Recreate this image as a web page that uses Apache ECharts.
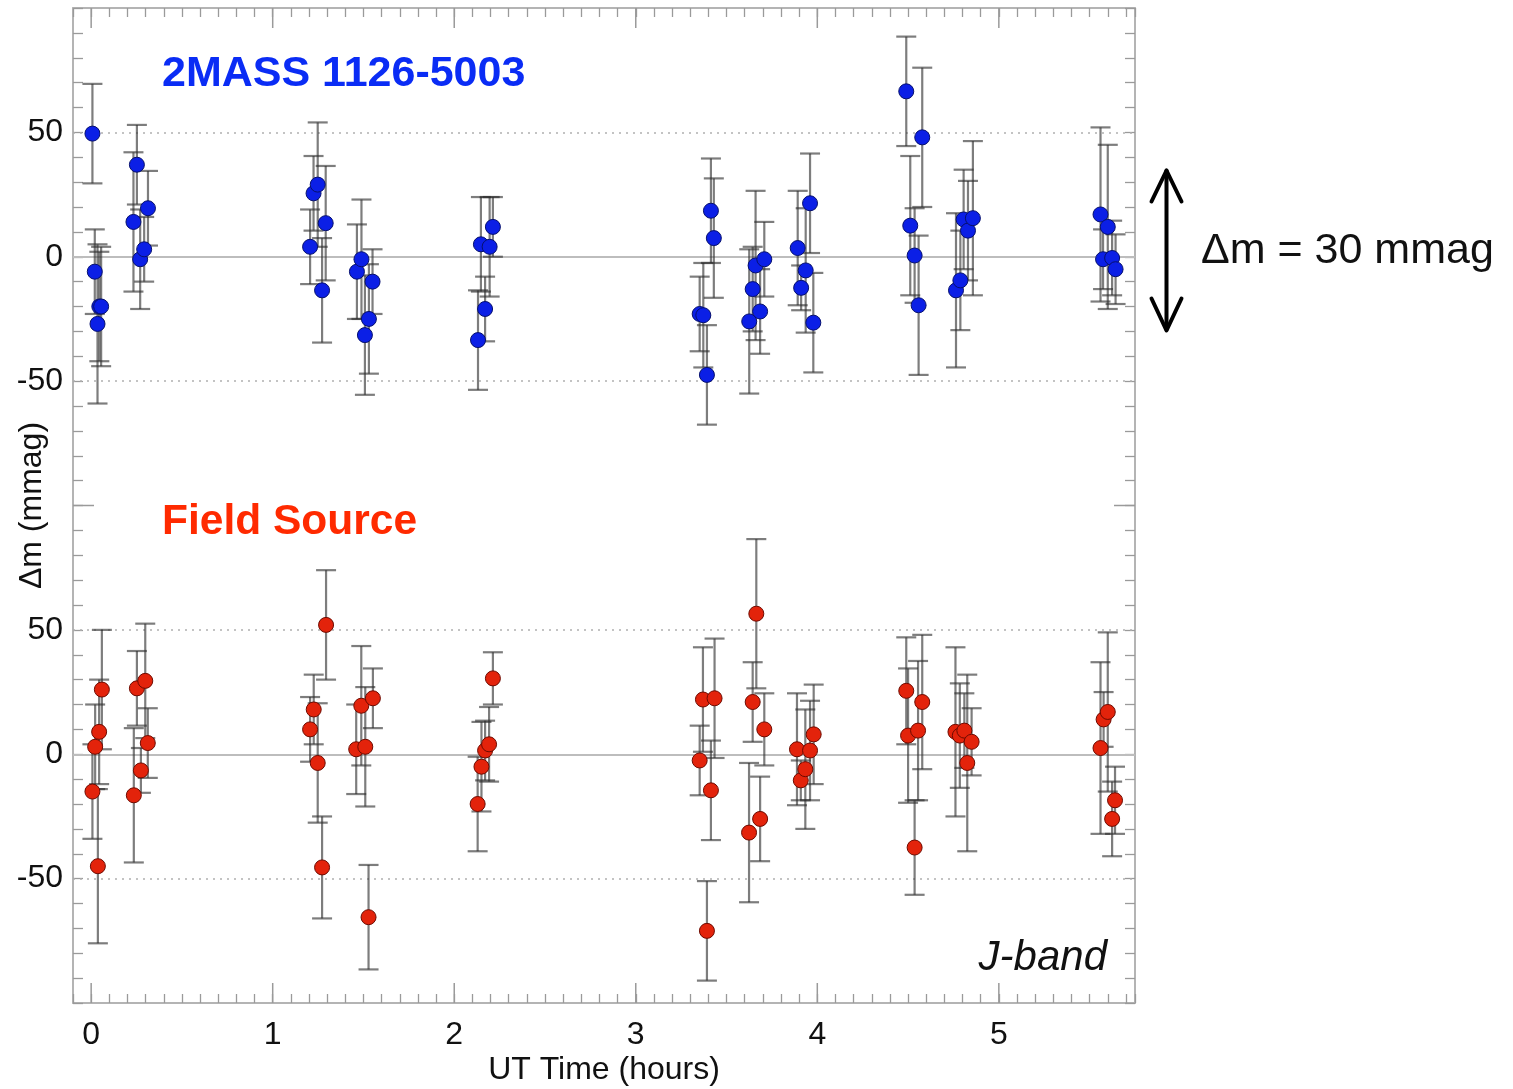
<!DOCTYPE html>
<html>
<head>
<meta charset="utf-8">
<script src="https://cdn.jsdelivr.net/npm/echarts@6/dist/echarts.min.js"></script>
<style>
html,body{margin:0;padding:0;background:#fff;}
#chart{width:1513px;height:1089px;}
</style>
</head>
<body>
<div id="chart"></div>
<script>
// ---- data (UT hours, delta-m in mmag, 1-sigma error in mmag) ----
const blueTime = [0.007,0.02,0.035,0.045,0.055, 0.233,0.252,0.27,0.292,0.313,
  1.206,1.225,1.248,1.272,1.292, 1.464,1.489,1.508,1.53,1.55,
  2.131,2.147,2.17,2.195,2.213, 3.352,3.372,3.392,3.414,3.43,
  3.625,3.644,3.66,3.685,3.708, 3.892,3.911,3.936,3.96,3.978,
  4.49,4.512,4.536,4.558,4.578, 4.764,4.788,4.806,4.83,4.857,
  5.56,5.574,5.6,5.624,5.643];
const blueDm = [49.5,-6,-27,-20,-20, 14,37,-1,3,19.5,
  4,25.5,29,-13.5,13.5, -6,-1,-31.5,-25,-10,
  -33.5,5,-21,4,12, -23,-23.5,-47.5,18.5,7.5,
  -26,-13,-3.5,-22,-1, 3.5,-12.5,-5.5,21.5,-26.5,
  66.5,12.5,0.5,-19.5,48, -13.5,-9.5,15,10.5,15.5,
  17,-1,12,-0.5,-5];
const blueErr = [20,17,32,22,24, 28,16,20,13,15,
  15,15,25,21,23, 19,24,24,22,13,
  20,19,13,20,12, 15,21,20,21,24,
  29,17,30,17,15, 23,9,25,20,20,
  22,28,19,28,28, 31,20,20,20,31,
  35,12,33,15,14];

const redTime = [0.007,0.022,0.037,0.044,0.059, 0.235,0.252,0.274,0.298,0.312,
  1.206,1.226,1.248,1.272,1.294, 1.46,1.488,1.51,1.528,1.552,
  2.129,2.15,2.17,2.192,2.213, 3.352,3.37,3.392,3.414,3.434,
  3.624,3.644,3.664,3.685,3.708, 3.888,3.909,3.934,3.96,3.98,
  4.49,4.5,4.536,4.555,4.578, 4.761,4.785,4.81,4.826,4.85,
  5.56,5.577,5.6,5.624,5.64];
const redDm = [-15,3,-45,9,26, -16.5,26.5,-6.5,29.5,4.5,
  10,18,-3.5,-45.5,52, 2,19.5,3,-65.5,22.5,
  -20,-5,1.5,4,30.5, -2.5,22,-71,-14.5,22.5,
  -31.5,21,56.5,-26,10, 2,-10.5,-6,1.5,8,
  25.5,7.5,-37.5,9.5,21, 9,7.5,9.5,-3.5,5,
  2.5,14,17,-26,-18.5];
const redErr = [19,17,31,21,24, 27,15,9,23,14,
  13,14,24,20.5,22, 18,24,24,21,12,
  19,18,12,15,10.5, 14,21,20,20,24,
  28,16,30,17,14.5, 22.5,8,24,20,20,
  21.5,27,19,28,27, 34,21,15,35.5,13.5,
  34.5,11,32,15,13.5];

const xTickLabels = [0,1,2,3,4,5];
const yTickLabels = [50,0,-50];
const PANEL_OFFSET = 200;   // lower panel drawn 200 mmag below the upper one

// ---- build ----
const bluePts = blueTime.map((t,i)=>[t, blueDm[i], blueErr[i]]);
const redPts = redTime.map((t,i)=>[t, redDm[i]-PANEL_OFFSET, redErr[i]]);

const FONT = '"Liberation Sans", Arial, Helvetica, sans-serif';
const frameColor = '#b4b4b4';
const tickColor = '#9a9a9a';

function errRender(params, api){
  const x = api.value(0), y = api.value(1), e = api.value(2);
  const top = api.coord([x, y+e]);
  const bot = api.coord([x, y-e]);
  const hw = 10;
  const st = {stroke:'rgba(45,45,45,0.62)', lineWidth:2.2};
  return {type:'group', children:[
    {type:'line', shape:{x1:top[0],y1:top[1],x2:bot[0],y2:bot[1]}, style:st},
    {type:'line', shape:{x1:top[0]-hw,y1:top[1],x2:top[0]+hw,y2:top[1]}, style:st},
    {type:'line', shape:{x1:bot[0]-hw,y1:bot[1],x2:bot[0]+hw,y2:bot[1]}, style:st}
  ]};
}

// long ticks: integer hours on bottom/top; panel boundary on left/right
const majorX = xTickLabels.map(v=>[v,'x']);
const majorY = [[-100,'y']];
function majorTickRender(params, api){
  const v = api.value(0);
  const cs = params.coordSys;
  const st = {stroke:tickColor, lineWidth:1.5};
  if (params.dataIndex < majorX.length){
    const p = api.coord([v, -300]);
    const L = 20;
    return {type:'group', children:[
      {type:'line', shape:{x1:p[0],y1:cs.y+cs.height,x2:p[0],y2:cs.y+cs.height-L}, style:st},
      {type:'line', shape:{x1:p[0],y1:cs.y,x2:p[0],y2:cs.y+L}, style:st}
    ]};
  } else {
    const p = api.coord([0, v]);
    const L = 21;
    return {type:'group', children:[
      {type:'line', shape:{x1:cs.x,y1:p[1],x2:cs.x+L,y2:p[1]}, style:st},
      {type:'line', shape:{x1:cs.x+cs.width,y1:p[1],x2:cs.x+cs.width-L,y2:p[1]}, style:st}
    ]};
  }
}

function xLabel(v){
  const r = Math.round(v);
  return (Math.abs(v-r) < 1e-6 && xTickLabels.indexOf(r) >= 0) ? String(r) : '';
}
function yLabel(v){
  const r = Math.round(v);
  if (Math.abs(v-r) > 1e-6) return '';
  if (yTickLabels.indexOf(r) >= 0) return String(r);
  if (yTickLabels.indexOf(r+PANEL_OFFSET) >= 0) return String(r+PANEL_OFFSET);
  return '';
}

const xBase = {
  type:'value', min:-0.1, max:5.75, interval:0.1,
  axisLine:{show:true, onZero:false, lineStyle:{color:frameColor, width:2}},
  axisTick:{show:true, inside:true, length:9, lineStyle:{color:tickColor, width:1.3}},
  splitLine:{show:false}
};
const yBase = {
  type:'value', min:-300, max:100, interval:10,
  axisLine:{show:true, onZero:false, lineStyle:{color:frameColor, width:2}},
  axisTick:{show:true, inside:true, length:10, lineStyle:{color:tickColor, width:1.3}},
  splitLine:{show:false}
};

const gridLines = [];
[50,-50].forEach(v=>{
  gridLines.push({yAxis:v, lineStyle:{type:[2,5], color:'#b0b0b0', width:1.5}});
  gridLines.push({yAxis:v-PANEL_OFFSET, lineStyle:{type:[2,5], color:'#b0b0b0', width:1.5}});
});
gridLines.push({yAxis:0, lineStyle:{type:'solid', color:'#bdbdbd', width:2}});
gridLines.push({yAxis:-PANEL_OFFSET, lineStyle:{type:'solid', color:'#bdbdbd', width:2}});

const option = {
  animation:false,
  backgroundColor:'#ffffff',
  grid:{left:73, right:378, top:8, bottom:86, containLabel:false, outerBoundsMode:'none'},
  xAxis:[
    Object.assign({}, xBase, {
      position:'bottom',
      name:'UT Time (hours)', nameLocation:'middle', nameGap:51, nameMoveOverlap:false,
      nameTextStyle:{fontFamily:FONT, fontSize:32, color:'#111'},
      axisLabel:{show:true, formatter:xLabel, margin:16, fontFamily:FONT, fontSize:32, color:'#111', showMinLabel:true, showMaxLabel:true}
    }),
    Object.assign({}, xBase, {position:'top', axisLabel:{show:false}})
  ],
  yAxis:[
    Object.assign({}, yBase, {
      position:'left',
      name:'\u0394m (mmag)', nameLocation:'middle', nameGap:25, nameMoveOverlap:false,
      nameTextStyle:{fontFamily:FONT, fontSize:32, color:'#111'},
      axisLabel:{show:true, formatter:yLabel, margin:10, fontFamily:FONT, fontSize:32, color:'#111'}
    }),
    Object.assign({}, yBase, {position:'right', axisLabel:{show:false}})
  ],
  series:[
    {
      type:'custom', name:'ticks', renderItem:majorTickRender,
      data:majorX.concat(majorY).map(d=>[d[0]]), encode:{x:-1,y:-1}, silent:true, z:1,
      markLine:{silent:true, z:1, symbol:'none', label:{show:false}, data:gridLines, animation:false}
    },
    {type:'custom', name:'blueErr', renderItem:errRender, data:bluePts, encode:{x:0,y:[1]}, z:2, silent:true},
    {type:'custom', name:'redErr', renderItem:errRender, data:redPts, encode:{x:0,y:[1]}, z:2, silent:true},
    {type:'scatter', name:'2MASS 1126-5003', data:bluePts.map(p=>[p[0],p[1]]), symbolSize:15, z:6,
      itemStyle:{color:'#0b1fe6', borderColor:'#06106e', borderWidth:1, opacity:1}},
    {type:'scatter', name:'Field Source', data:redPts.map(p=>[p[0],p[1]]), symbolSize:15, z:6,
      itemStyle:{color:'#e3230b', borderColor:'#6e0a00', borderWidth:1, opacity:1}}
  ],
  graphic:[
    {type:'text', left:162, top:53, style:{text:'2MASS 1126-5003', font:'bold 43px '+FONT, fill:'#0a2cf5'}},
    {type:'text', left:162, top:501, style:{text:'Field Source', font:'bold 42.5px '+FONT, fill:'#ff2a00'}},
    {type:'text', right:1513-1107, top:937, style:{text:'J-band', font:'italic 42px '+FONT, fill:'#111'}},
    {type:'text', left:1201, top:230, style:{text:'\u0394m = 30 mmag', font:'43px '+FONT, fill:'#111'}},
    {type:'group', left:1149, top:168, children:[
      {type:'line', shape:{x1:17,y1:3,x2:17,y2:162}, style:{stroke:'#000', lineWidth:4, lineCap:'round'}},
      {type:'polyline', shape:{points:[[2,34],[17,3],[32,34]]}, style:{stroke:'#000', fill:null, lineWidth:4, lineCap:'round', lineJoin:'round'}},
      {type:'polyline', shape:{points:[[2,131],[17,163],[32,131]]}, style:{stroke:'#000', fill:null, lineWidth:4, lineCap:'round', lineJoin:'round'}}
    ]}
  ]
};

const chart = echarts.init(document.getElementById('chart'), null, {renderer:'canvas'});
chart.setOption(option);
</script>
</body>
</html>
